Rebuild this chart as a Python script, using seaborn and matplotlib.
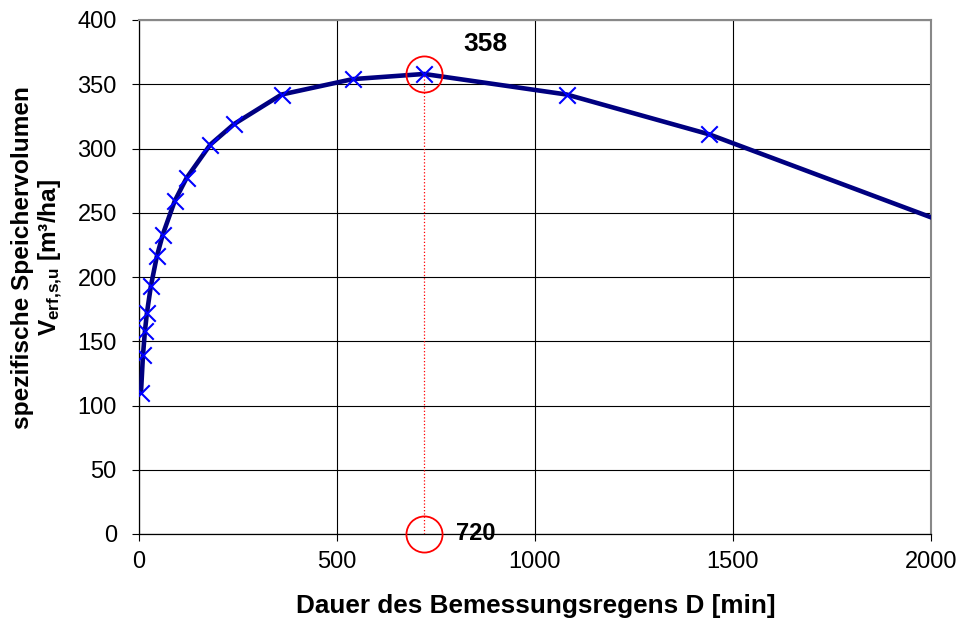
import numpy as np
import pandas as pd
import matplotlib
matplotlib.use('Agg')
import matplotlib.pyplot as plt
import seaborn as sns

# Dauer D [min] und spezifisches Speichervolumen [m3/ha]
dauer = [5, 10, 15, 20, 30, 45, 60, 90, 120, 180, 240, 360, 540, 720, 1080, 1440, 2880]
volumen = [110, 139, 158, 172, 193, 216, 233, 259, 277, 303, 319, 342, 354, 358, 342, 311, 145]

d_max = 720
v_max = 358

x_ticks = [0, 500, 1000, 1500, 2000]
y_ticks = [0, 50, 100, 150, 200, 250, 300, 350, 400]

df = pd.DataFrame({'D': dauer, 'V': volumen})

sns.set_style('white')
plt.rcParams['font.family'] = ['Liberation Sans', 'DejaVu Sans']
plt.rcParams['text.color'] = 'black'
plt.rcParams['axes.labelcolor'] = 'black'
plt.rcParams['xtick.color'] = 'black'
plt.rcParams['ytick.color'] = 'black'
plt.rcParams['mathtext.fontset'] = 'custom'
plt.rcParams['mathtext.rm'] = 'Liberation Sans:bold'
plt.rcParams['mathtext.it'] = 'Liberation Sans:bold'
plt.rcParams['mathtext.bf'] = 'Liberation Sans:bold'

fig = plt.figure(figsize=(9.6, 6.29), dpi=100)
ax = fig.add_axes([139 / 960, 1 - 534 / 629, 792 / 960, 514 / 629])

# Kurve und Messpunkte
sns.lineplot(data=df, x='D', y='V', ax=ax, color='#000080', linewidth=3.3,
             sort=False, zorder=3)
sns.scatterplot(data=df, x='D', y='V', ax=ax, marker='x', color='#0000ff',
                s=140, linewidth=1.5, zorder=4)

# Maximum markieren
ax.plot([d_max, d_max], [0, v_max], color='red', linestyle=':', linewidth=0.9, zorder=2)
ax.plot([d_max, d_max], [v_max, 0], linestyle='none', marker='o', markersize=26,
        markerfacecolor='none', markeredgecolor='red', markeredgewidth=1.3,
        zorder=5, clip_on=False)
ax.text(d_max + 100, v_max + 23, f'{v_max}', fontsize=19, fontweight='bold',
        ha='left', va='center')
ax.text(d_max + 80, 0, f'{d_max}', fontsize=17, fontweight='bold',
        ha='left', va='center')

ax.set_xlim(0, 2000)
ax.set_ylim(0, 400)
ax.set_xticks(x_ticks)
ax.set_yticks(y_ticks)
ax.grid(True, color='black', linewidth=0.8)
ax.set_axisbelow(True)
ax.tick_params(axis='both', labelsize=17, direction='out', length=5, width=0.8,
               color='black', left=True, bottom=True)
ax.tick_params(axis='y', pad=11)
ax.tick_params(axis='x', pad=7)

for side in ['left', 'bottom']:
    ax.spines[side].set_color('black')
    ax.spines[side].set_linewidth(0.9)
for side in ['top', 'right']:
    ax.spines[side].set_color('#888888')
    ax.spines[side].set_linewidth(1.5)

ax.set_xlabel('')
ax.set_ylabel('')
fig.text(536 / 960, 1 - 606 / 629, 'Dauer des Bemessungsregens D [min]',
         fontsize=18.8, fontweight='bold', ha='center', va='center')
fig.text(38 / 960, 1 - 258 / 629,
         'spezifische Speichervolumen\nV$_{erf{,}s{,}u}$ [m³/ha]',
         fontsize=17.6, fontweight='bold', rotation=90, ha='center', va='center',
         multialignment='center', linespacing=1.1)

fig.savefig('out.png', dpi=100)
